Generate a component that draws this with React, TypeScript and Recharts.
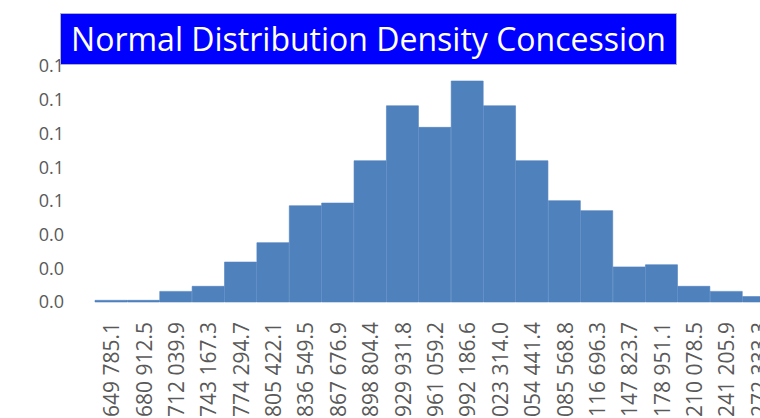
import { BarChart, Bar, XAxis, YAxis } from "recharts";

const binLabels = [
  "649 785.1",
  "680 912.5",
  "712 039.9",
  "743 167.3",
  "774 294.7",
  "805 422.1",
  "836 549.5",
  "867 676.9",
  "898 804.4",
  "929 931.8",
  "961 059.2",
  "992 186.6",
  "1 023 314.0",
  "1 054 441.4",
  "1 085 568.8",
  "1 116 696.3",
  "1 147 823.7",
  "1 178 951.1",
  "1 210 078.5",
  "1 241 205.9",
  "1 272 333.3",
];

const density = [
  0.001, 0.001, 0.0063, 0.0093, 0.0237, 0.0352, 0.0571, 0.0587, 0.0838, 0.1164,
  0.1036, 0.1311, 0.1164, 0.0838, 0.0601, 0.0542, 0.0208, 0.0221, 0.0093,
  0.0063, 0.0032,
];

const yTicks = [0, 0.02, 0.04, 0.06, 0.08, 0.1, 0.12, 0.14];

const data = binLabels.map((bin, i) => ({ bin, density: density[i] }));

const XTick = ({ x, y, payload }: any) => {
  const ty = y + 12;
  return (
    <text
      x={x}
      y={ty}
      transform={`rotate(-90, ${x}, ${ty})`}
      textAnchor="end"
      dominantBaseline="central"
      fill="#595959"
      fontSize={21}
      fontFamily="Open Sans, sans-serif"
    >
      {payload.value}
    </text>
  );
};

export default function App() {
  return (
    <div
      style={{
        position: "absolute",
        left: 0,
        top: 0,
        width: 760,
        height: 418,
        overflow: "hidden",
        background: "#fff",
      }}
    >
      <BarChart
        width={776}
        height={418}
        data={data}
        barCategoryGap={0}
        margin={{ top: 66, right: 1, left: 0, bottom: 0 }}
      >
        <XAxis
          dataKey="bin"
          interval={0}
          height={116}
          axisLine={false}
          tickLine={false}
          tick={<XTick />}
        />
        <YAxis
          width={95}
          domain={[0, 0.14]}
          ticks={yTicks}
          axisLine={false}
          tickLine={false}
          tickSize={0}
          tickMargin={31}
          tickFormatter={(v: number) => v.toFixed(1)}
          tick={{ fill: "#595959", fontSize: 18, fontFamily: "Open Sans, sans-serif" }}
        />
        <Bar
          dataKey="density"
          fill="#4F81BD"
          stroke="#4F81BD"
          strokeWidth={0.6}
          isAnimationActive={false}
        />
      </BarChart>
      <div
        style={{
          position: "absolute",
          left: 60,
          top: 13,
          width: 615,
          height: 50,
          background: "#0000FF",
          border: "1px solid #b0b0c8",
          color: "#fff",
          fontFamily: "Open Sans, sans-serif",
          fontSize: 32,
          lineHeight: "50px",
          textAlign: "center",
          whiteSpace: "nowrap",
        }}
      >
        Normal Distribution Density Concession
      </div>
    </div>
  );
}
